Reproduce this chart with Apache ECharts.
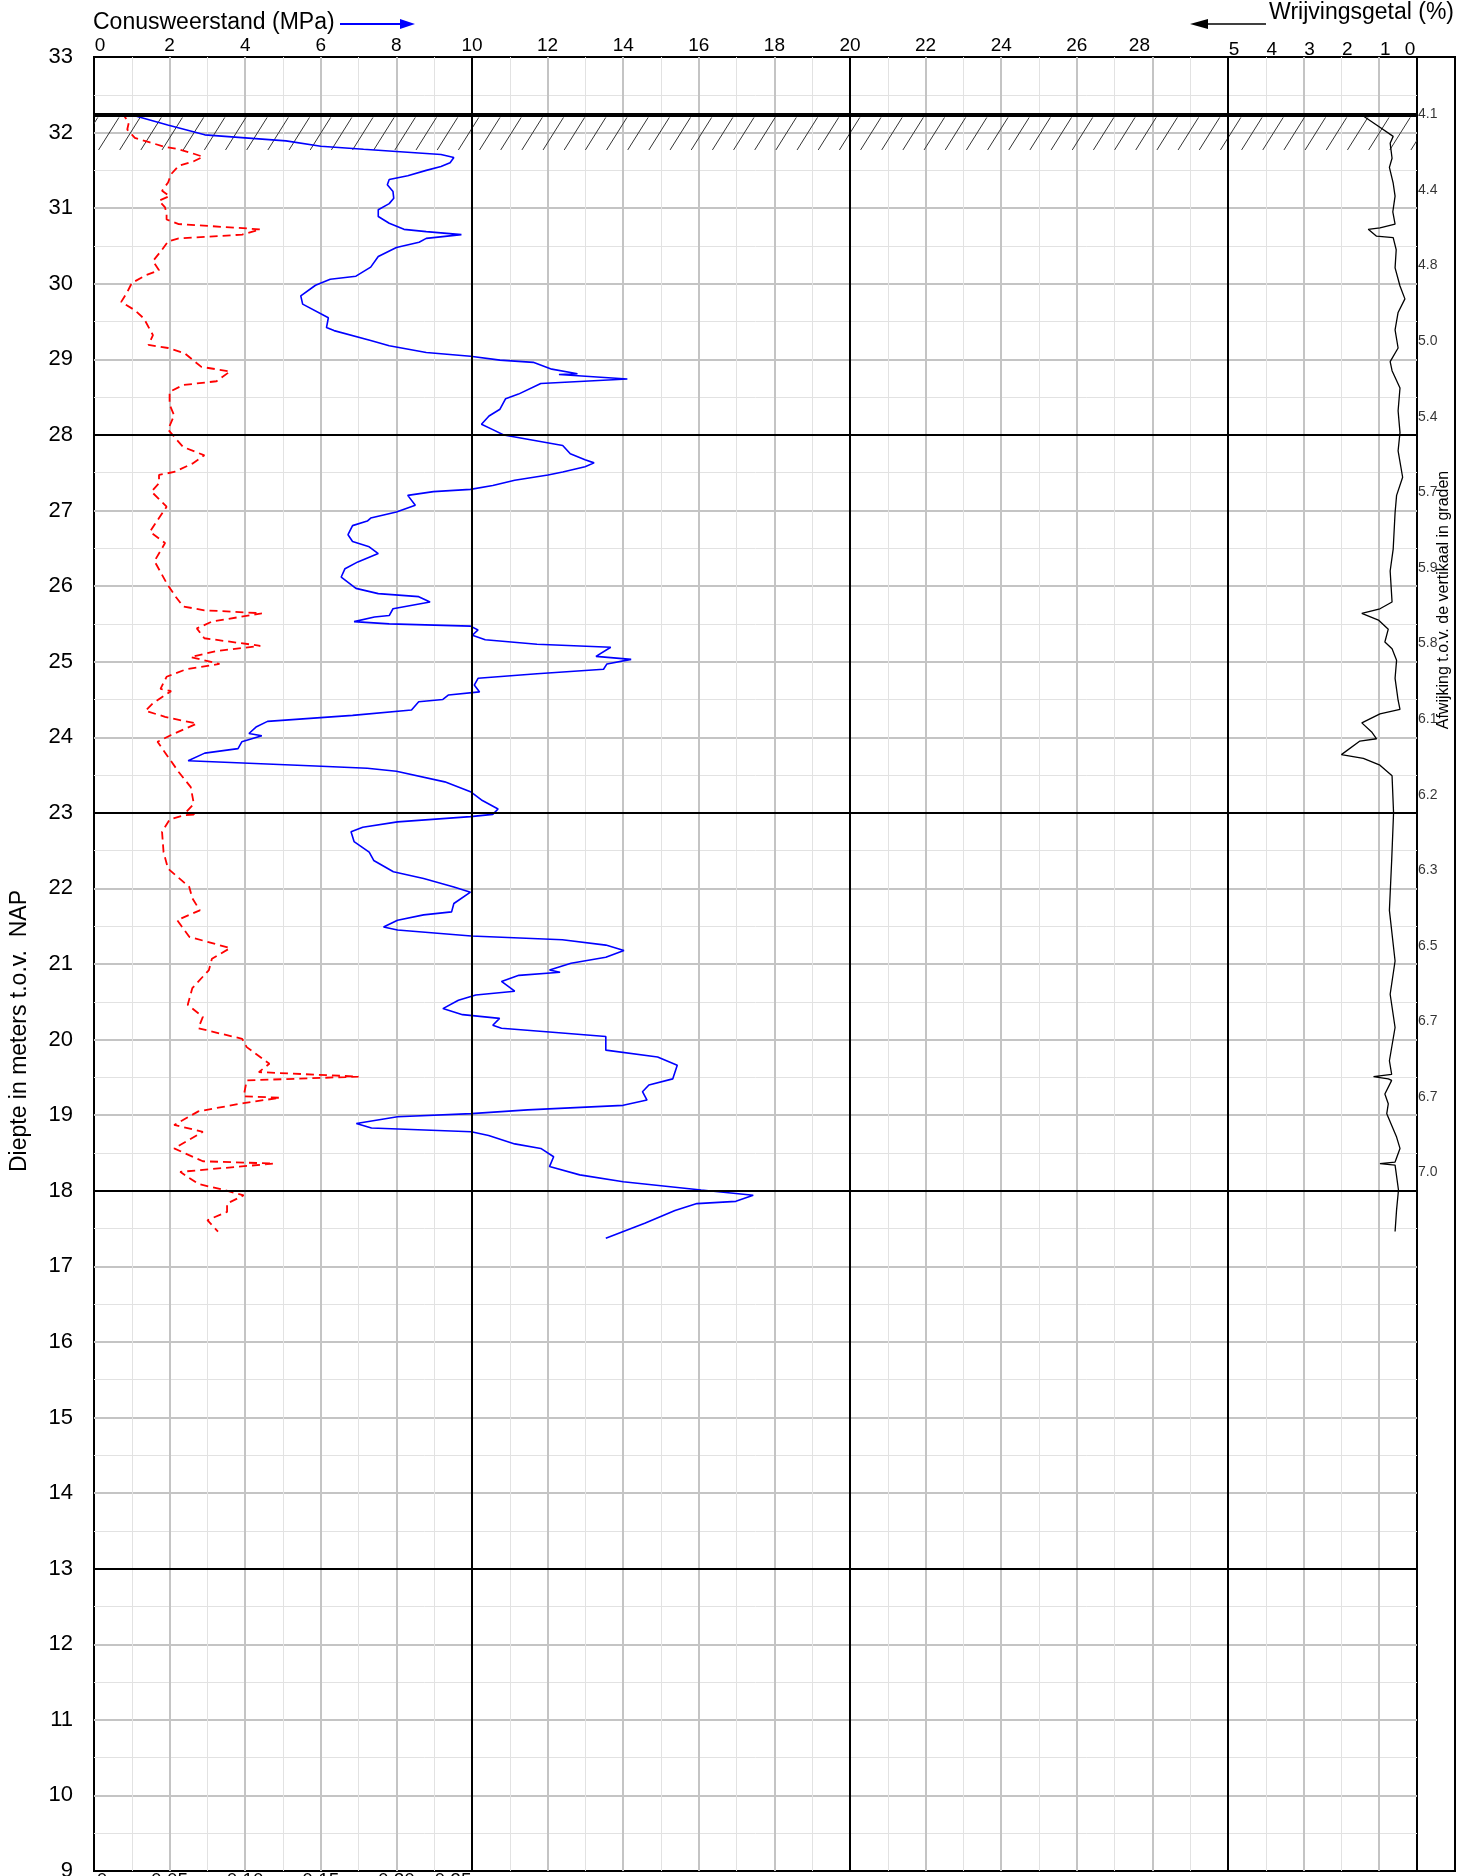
<!DOCTYPE html>
<html><head><meta charset="utf-8">
<script src="https://cdn.jsdelivr.net/npm/echarts@6.0.0/dist/echarts.min.js"></script>
<style>html,body{margin:0;padding:0;background:#fff;overflow:hidden}#chart{width:1470px;height:1876px}</style>
</head><body><div id="chart"></div>
<script>
// ---- data ----
const groundLevel = 32.24;            // m t.o.v. NAP (start of sounding)
const hatchBottom = 31.77;
const blackDepthLines = [28, 23, 18, 13];
const blackMPaLines = [10, 20, 30];

// Cone resistance qc (MPa) vs depth (m NAP)
const coneMPa = [1.1,1.95,2.93,4.0,5.08,6.0,7.13,8.0,9.18,9.52,9.42,9.18,8.79,8.3,7.81,7.76,7.91,7.93,7.81,7.52,7.52,7.81,8.2,8.79,9.72,8.79,8.6,8.0,7.52,7.32,6.93,6.25,5.86,5.47,5.52,6.2,6.15,6.35,7.32,7.81,8.79,9.96,10.74,11.62,12.11,12.79,12.3,14.11,11.82,11.23,10.89,10.74,10.45,10.25,10.55,10.84,11.62,12.4,12.6,12.99,13.23,12.99,12.4,12.01,11.13,10.55,9.96,8.98,8.3,8.5,8.0,7.32,7.23,6.84,6.72,6.84,7.28,7.52,6.98,6.64,6.54,6.93,7.52,8.59,8.89,7.91,7.81,7.42,6.88,7.81,9.96,10.16,10.01,10.35,11.72,13.67,13.28,14.21,13.57,13.48,11.72,10.16,10.06,10.2,9.38,9.23,8.59,8.4,6.84,4.59,4.3,4.1,4.44,3.91,3.81,2.93,2.49,5.86,7.23,8.0,9.28,9.96,10.25,10.69,10.55,9.96,8.03,7.11,6.8,6.88,7.28,7.4,7.92,8.72,9.52,9.96,9.52,9.46,8.72,8.03,7.66,8.03,9.98,12.39,13.54,14.02,13.54,12.62,12.05,12.33,11.24,10.78,11.13,10.1,9.64,9.23,9.75,10.73,10.55,10.78,12.05,13.54,13.54,14.91,15.43,15.31,14.68,14.51,14.63,14.0,11.47,9.98,8.03,6.94,7.34,9.98,10.44,11.13,11.82,12.16,12.05,12.85,14.0,16.06,17.44,16.98,15.95,15.37,14.57,13.54];
const coneDepth = [32.22,32.10,31.97,31.93,31.89,31.82,31.78,31.75,31.71,31.67,31.60,31.55,31.50,31.43,31.38,31.31,31.22,31.13,31.06,30.98,30.89,30.80,30.72,30.69,30.65,30.60,30.55,30.48,30.36,30.22,30.10,30.06,29.98,29.84,29.73,29.55,29.42,29.38,29.25,29.18,29.09,29.04,28.99,28.96,28.87,28.81,28.80,28.74,28.68,28.54,28.48,28.34,28.25,28.14,28.07,28.00,27.93,27.86,27.75,27.67,27.63,27.58,27.51,27.47,27.40,27.33,27.28,27.25,27.20,27.07,26.98,26.90,26.86,26.80,26.68,26.59,26.52,26.43,26.32,26.23,26.12,25.97,25.90,25.86,25.79,25.70,25.61,25.59,25.53,25.50,25.47,25.42,25.35,25.29,25.23,25.19,25.07,25.03,24.97,24.90,24.84,24.78,24.69,24.60,24.56,24.50,24.47,24.36,24.29,24.21,24.14,24.05,24.02,23.94,23.85,23.79,23.69,23.62,23.59,23.55,23.41,23.28,23.17,23.05,22.98,22.95,22.88,22.81,22.75,22.62,22.48,22.37,22.22,22.13,22.02,21.95,21.80,21.69,21.65,21.58,21.49,21.45,21.37,21.32,21.25,21.18,21.09,21.01,20.92,20.89,20.85,20.77,20.64,20.59,20.52,20.41,20.33,20.28,20.19,20.15,20.10,20.04,19.86,19.77,19.66,19.48,19.40,19.31,19.20,19.13,19.07,19.02,18.98,18.89,18.83,18.78,18.73,18.62,18.56,18.45,18.32,18.21,18.12,18.01,17.94,17.86,17.83,17.74,17.57,17.37];

// Local friction fs (MPa), bottom axis 0 - 0.25
const frictionMPa = [0.000,0.020,0.023,0.022,0.027,0.037,0.047,0.056,0.066,0.072,0.066,0.056,0.051,0.049,0.045,0.050,0.043,0.047,0.048,0.048,0.056,0.110,0.098,0.056,0.049,0.045,0.039,0.043,0.034,0.025,0.022,0.018,0.027,0.033,0.039,0.036,0.049,0.060,0.071,0.090,0.081,0.059,0.050,0.050,0.053,0.049,0.055,0.059,0.073,0.065,0.053,0.043,0.043,0.038,0.048,0.043,0.037,0.047,0.040,0.048,0.054,0.059,0.073,0.111,0.078,0.068,0.073,0.110,0.081,0.064,0.083,0.061,0.048,0.044,0.051,0.039,0.034,0.047,0.068,0.051,0.042,0.049,0.056,0.064,0.066,0.060,0.068,0.060,0.050,0.045,0.046,0.049,0.063,0.065,0.070,0.055,0.063,0.090,0.078,0.076,0.065,0.062,0.072,0.069,0.098,0.101,0.116,0.109,0.175,0.101,0.099,0.123,0.099,0.069,0.053,0.072,0.053,0.072,0.119,0.057,0.069,0.086,0.099,0.088,0.088,0.075,0.082];
const frictionDepth = [32.24,32.22,32.13,32.04,31.93,31.87,31.81,31.78,31.72,31.68,31.62,31.56,31.45,31.34,31.23,31.16,31.10,31.01,30.92,30.85,30.79,30.72,30.65,30.60,30.56,30.45,30.30,30.18,30.11,30.01,29.89,29.76,29.65,29.54,29.32,29.19,29.15,29.08,28.90,28.84,28.71,28.66,28.57,28.40,28.26,28.07,27.93,27.84,27.73,27.62,27.51,27.47,27.36,27.25,27.05,26.90,26.72,26.57,26.33,26.04,25.86,25.73,25.68,25.64,25.53,25.44,25.31,25.21,25.14,25.06,24.97,24.90,24.80,24.64,24.61,24.45,24.35,24.27,24.18,24.03,23.94,23.74,23.54,23.34,23.12,22.99,22.98,22.97,22.91,22.75,22.48,22.26,22.02,21.87,21.71,21.58,21.36,21.21,21.07,20.92,20.68,20.46,20.30,20.15,20.01,19.90,19.68,19.57,19.51,19.46,19.25,19.23,19.16,19.05,18.87,18.78,18.56,18.39,18.36,18.25,18.09,18.01,17.94,17.83,17.72,17.61,17.46];

// Friction ratio Rf (%), axis runs 5 -> 0 towards the right
const ratioPct = [1.45,1.07,0.63,0.71,0.66,0.73,0.63,0.58,0.64,0.58,0.98,1.29,1.07,0.63,0.55,0.58,0.45,0.32,0.50,0.58,0.50,0.71,0.66,0.45,0.50,0.45,0.50,0.38,0.54,0.58,0.63,0.71,0.66,0.98,1.46,1.02,0.76,0.85,0.66,0.54,0.58,0.50,0.45,0.98,1.46,1.20,1.07,1.51,2.00,1.42,0.98,0.66,0.62,0.67,0.73,0.58,0.71,0.58,0.73,0.67,1.15,0.76,0.67,0.85,0.76,0.80,0.54,0.45,0.58,0.98,0.58,0.49,0.54,0.58];
const ratioDepth = [32.23,32.10,31.95,31.86,31.66,31.54,31.33,31.16,30.95,30.79,30.74,30.72,30.63,30.61,30.45,30.21,29.97,29.80,29.62,29.39,29.15,28.97,28.85,28.62,28.32,28.03,27.79,27.44,27.20,26.97,26.49,26.20,25.79,25.70,25.64,25.55,25.43,25.26,25.17,25.02,24.78,24.49,24.37,24.31,24.19,24.07,23.98,23.95,23.77,23.72,23.63,23.49,23.00,22.37,21.71,21.04,20.60,20.16,19.72,19.54,19.51,19.48,19.46,19.28,19.15,19.02,18.71,18.56,18.38,18.36,18.34,18.01,17.75,17.46];

// Deviation from vertical (degrees), right-hand column
const deviationDepth = [32.24,31.24,30.24,29.24,28.24,27.24,26.24,25.24,24.24,23.24,22.24,21.24,20.24,19.24,18.24];
const deviationDeg = ['4.1','4.4','4.8','5.0','5.4','5.7','5.9','5.8','6.1','6.2','6.3','6.5','6.7','6.7','7.0'];

// tick labels
const mpaTickMax = 28;
const ratioTickMax = 5;
const fsTickLabels = {0:'{a|0}',5:'0.05',10:'0.10',15:'0.15',20:'0.20',25:'{b|0.25}'};

// ---- chart ----
const FONT = 'Liberation Sans, Arial, sans-serif';
const zip = (a, b) => a.map((v, i) => [v, b[i]]);
const chart = echarts.init(document.getElementById('chart'), null, {renderer: 'canvas'});

const GT = 57, GW = 1323, GH = 1814;

const option = {
  animation: false,
  textStyle: {fontFamily: FONT, color: '#000'},
  grid: [
    {left: 94, top: GT, width: GW, height: GH, show: true, borderColor: '#000', borderWidth: 2, backgroundColor: 'transparent', containLabel: false, outerBoundsMode: 'none'},
    {left: 94 + GW, top: GT, width: 38, height: GH, show: true, borderColor: '#000', borderWidth: 2, backgroundColor: 'transparent', containLabel: false, outerBoundsMode: 'none'}
  ],
  xAxis: [
    {gridIndex: 0, type: 'value', min: 0, max: 35, interval: 1, position: 'bottom',
      axisLine: {show: false}, axisTick: {show: false}, axisLabel: {show: false},
      splitLine: {show: true, showMinLine: false, showMaxLine: false, lineStyle: {color: '#e2e2e2', width: 1}}},
    {gridIndex: 0, type: 'value', min: 0, max: 35, interval: 2, position: 'top',
      axisLine: {show: false}, axisTick: {show: false},
      axisLabel: {show: true, fontSize: 19, color: '#000', fontFamily: FONT, margin: 2,
        formatter: v => v > mpaTickMax ? '' : (v === 0 ? '{z|0}' : (v === mpaTickMax ? '{e|' + v + '}' : String(v))),
        rich: {z: {fontSize: 19, fontFamily: FONT, padding: [0, 0, 0, 12]}, e: {fontSize: 19, fontFamily: FONT, padding: [0, 26, 0, 0]}}},
      splitLine: {show: true, showMinLine: false, showMaxLine: false, lineStyle: {color: '#c4c4c4', width: 2}}},
    {gridIndex: 0, type: 'value', min: 0, max: 0.875, interval: 0.05, position: 'bottom',
      axisLine: {show: false}, axisTick: {show: false}, splitLine: {show: false},
      axisLabel: {show: true, fontSize: 19, color: '#000', fontFamily: FONT, margin: 0,
        formatter: v => { const k = Math.round(v * 100); return fsTickLabels[k] !== undefined ? fsTickLabels[k] : ''; },
        rich: {a: {fontSize: 19, fontFamily: FONT, padding: [0, 0, 0, 16]}, b: {fontSize: 19, fontFamily: FONT, padding: [0, 38, 0, 0]}}}},
    {gridIndex: 0, type: 'value', min: 0, max: 35, interval: 1, position: 'top', inverse: true,
      axisLine: {show: false}, axisTick: {show: false}, splitLine: {show: false},
      axisLabel: {show: true, fontSize: 19, color: '#000', fontFamily: FONT, margin: -2,
        formatter: v => v > ratioTickMax ? '' : (v === 0 ? '{r|0}' : '{l|' + v + '}'),
        rich: {l: {fontSize: 19, fontFamily: FONT, padding: [0, 0, 0, 12]}, r: {fontSize: 19, fontFamily: FONT, padding: [0, 14, 0, 0]}}}},
    {gridIndex: 1, type: 'value', min: 0, max: 1, show: false}
  ],
  yAxis: [
    {gridIndex: 0, type: 'value', min: 9, max: 33, interval: 0.5, position: 'left',
      axisLine: {show: false}, axisTick: {show: false}, axisLabel: {show: false},
      splitLine: {show: true, showMinLine: false, showMaxLine: false, lineStyle: {color: '#e2e2e2', width: 1}}},
    {gridIndex: 0, type: 'value', min: 9, max: 33, interval: 1, position: 'left',
      axisLine: {show: false}, axisTick: {show: false},
      axisLabel: {show: true, fontSize: 22, color: '#000', fontFamily: FONT, margin: 21},
      splitLine: {show: true, showMinLine: false, showMaxLine: false, lineStyle: {color: '#c4c4c4', width: 2}}},
    {gridIndex: 1, type: 'value', min: 9, max: 33, show: false}
  ],
  series: [
    {
      type: 'custom', name: 'hatch', xAxisIndex: 0, yAxisIndex: 0, clip: true, silent: true, z: 2,
      data: [[0, groundLevel, hatchBottom]],
      renderItem: function (params, api) {
        const top = api.value(1) - 0.04, bot = api.value(2);
        const children = [];
        const step = 0.56, span = 0.54;
        for (let x = -1; x < 35.5; x += step) {
          const p1 = api.coord([x, bot]);
          const p2 = api.coord([x + span, top]);
          children.push({type: 'line', shape: {x1: p1[0], y1: p1[1], x2: p2[0], y2: p2[1]},
            style: {stroke: '#333', lineWidth: 1}});
        }
        return {type: 'group', children: children};
      },
      markLine: {
        silent: true, symbol: 'none', label: {show: false}, animation: false,
        data: [
          {yAxis: groundLevel, lineStyle: {color: '#000', width: 4, type: 'solid'}}
        ].concat(blackDepthLines.map(d => ({yAxis: d, lineStyle: {color: '#000', width: 2, type: 'solid'}})))
         .concat(blackMPaLines.map(m => ({xAxis: m, lineStyle: {color: '#000', width: 2, type: 'solid'}})))
      }
    },
    {
      type: 'line', name: 'fs', xAxisIndex: 2, yAxisIndex: 0, z: 3,
      data: zip(frictionMPa, frictionDepth), showSymbol: false, symbol: 'none',
      lineStyle: {color: '#ff0000', width: 1.8, type: [8, 5]}
    },
    {
      type: 'line', name: 'qc', xAxisIndex: 0, yAxisIndex: 0, z: 4,
      data: zip(coneMPa, coneDepth), showSymbol: false, symbol: 'none',
      lineStyle: {color: '#0000ff', width: 1.6}
    },
    {
      type: 'line', name: 'Rf', xAxisIndex: 3, yAxisIndex: 0, z: 4,
      data: zip(ratioPct, ratioDepth), showSymbol: false, symbol: 'none',
      lineStyle: {color: '#000', width: 1.3}
    },
    {
      type: 'scatter', name: 'deviation', xAxisIndex: 4, yAxisIndex: 2, z: 6,
      data: deviationDepth.map((d, i) => ({value: [0, d], label: {formatter: deviationDeg[i]}})),
      symbolSize: 0.1, itemStyle: {color: 'rgba(0,0,0,0)'},
      label: {show: true, position: 'right', distance: 1, fontSize: 14, color: '#000', fontFamily: FONT}
    }
  ],
  graphic: [
    {type: 'text', x: 93, y: 23, style: {text: 'Conusweerstand (MPa)', font: '23px ' + FONT, fill: '#000', textVerticalAlign: 'middle', textAlign: 'left'}},
    {type: 'line', shape: {x1: 340, y1: 24, x2: 402, y2: 24}, style: {stroke: '#0000ff', lineWidth: 2}},
    {type: 'polygon', shape: {points: [[400, 19], [415, 24], [400, 29]]}, style: {fill: '#0000ff'}},
    {type: 'text', x: 1454, y: 13, style: {text: 'Wrijvingsgetal (%)', font: '23px ' + FONT, fill: '#000', textVerticalAlign: 'middle', textAlign: 'right'}},
    {type: 'line', shape: {x1: 1266, y1: 24, x2: 1205, y2: 24}, style: {stroke: '#000', lineWidth: 1.5}},
    {type: 'polygon', shape: {points: [[1208, 19], [1190, 24], [1208, 29]]}, style: {fill: '#000'}},
    {type: 'text', x: 20, y: 1031, rotation: Math.PI / 2, style: {text: 'Diepte in meters t.o.v.  NAP', font: '23px ' + FONT, fill: '#000', textVerticalAlign: 'middle', textAlign: 'center'}},
    {type: 'text', x: 1444, y: 600, rotation: Math.PI / 2, style: {text: 'Afwijking t.o.v. de vertikaal in graden', font: '16px ' + FONT, fill: '#000', textVerticalAlign: 'middle', textAlign: 'center'}}
  ]
};
chart.setOption(option);
</script>
</body></html>
